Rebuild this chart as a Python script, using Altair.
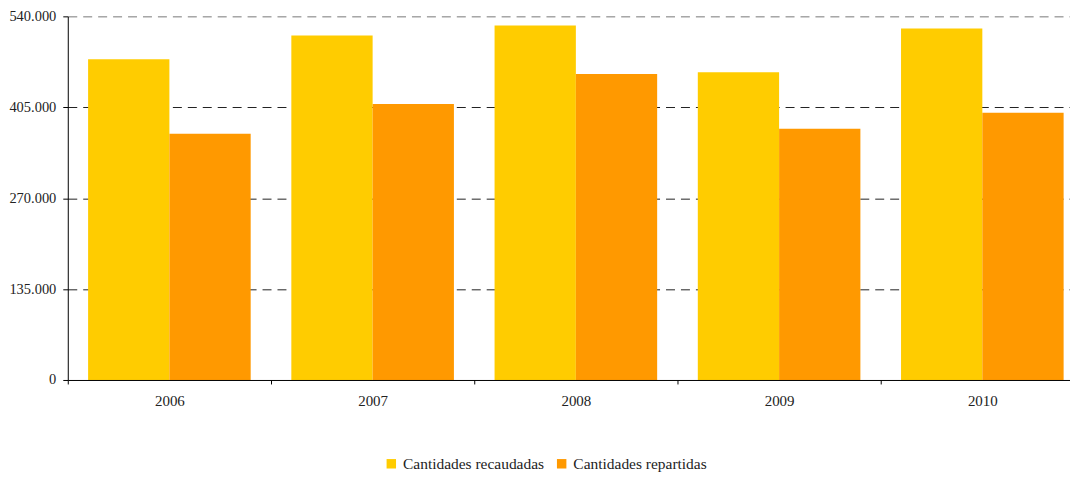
import altair as alt
import pandas as pd

years = ["2006", "2007", "2008", "2009", "2010"]
recaudadas = [476200, 511600, 526300, 457100, 521900]
repartidas = [365800, 410000, 454200, 373200, 396700]
series = ["Cantidades recaudadas", "Cantidades repartidas"]
colors = ["#FFCC00", "#FF9900"]
y_ticks = [0, 135000, 270000, 405000, 540000]

rows = []
for i, y in enumerate(years):
    rows.append({"year": y, "serie": series[0], "value": recaudadas[i]})
    rows.append({"year": y, "serie": series[1], "value": repartidas[i]})
df = pd.DataFrame(rows)

FONT = "Liberation Serif"

chart = alt.Chart(df).mark_bar().encode(
    x=alt.X("year:N", title=None,
            scale=alt.Scale(paddingInner=0, paddingOuter=0, range=[0, 1020]),
            axis=alt.Axis(labelAngle=0, tickBand="extent", tickSize=4,
                          tickColor="#000", domainColor="#000", labelPadding=10,
                          labelFont=FONT, labelFontSize=15, labelColor="#222",
                          grid=False, zindex=1)),
    xOffset=alt.XOffset("serie:N", sort=series,
                        scale=alt.Scale(paddingInner=0, paddingOuter=0.25)),
    y=alt.Y("value:Q", title=None,
            scale=alt.Scale(domain=[0, 540000], nice=False),
            axis=alt.Axis(values=y_ticks, tickSize=5, tickColor="#000",
                          domainColor="#000", labelPadding=7,
                          labelFont=FONT, labelFontSize=14.5, labelColor="#222",
                          labelExpr="replace(format(datum.value, ','), regexp(',', 'g'), '.')",
                          grid=True,
                          gridColor={"condition": {"test": "datum.value === 540000", "value": "#777"}, "value": "#222"},
                          gridOpacity={"condition": {"test": "datum.value === 0", "value": 0}, "value": 1},
                          gridDash=[9, 6],
                          gridWidth=1)),
    color=alt.Color("serie:N", sort=series,
                    scale=alt.Scale(domain=series, range=colors),
                    legend=alt.Legend(title=None, orient="none", direction="horizontal",
                                      legendX=317, legendY=441,
                                      symbolType="square", symbolSize=90,
                                      symbolStrokeWidth=0, labelOffset=4,
                                      columnPadding=9,
                                      labelFont=FONT, labelFontSize=15.5,
                                      labelColor="#222")),
).properties(
    width=1006, height=365,
    autosize=alt.AutoSizeParams(type="none"),
    padding={"left": 60, "top": 7.5, "right": 0, "bottom": 94},
).configure_view(stroke=None)

chart.save("out.html", embed_options={"renderer": "svg", "actions": False})
